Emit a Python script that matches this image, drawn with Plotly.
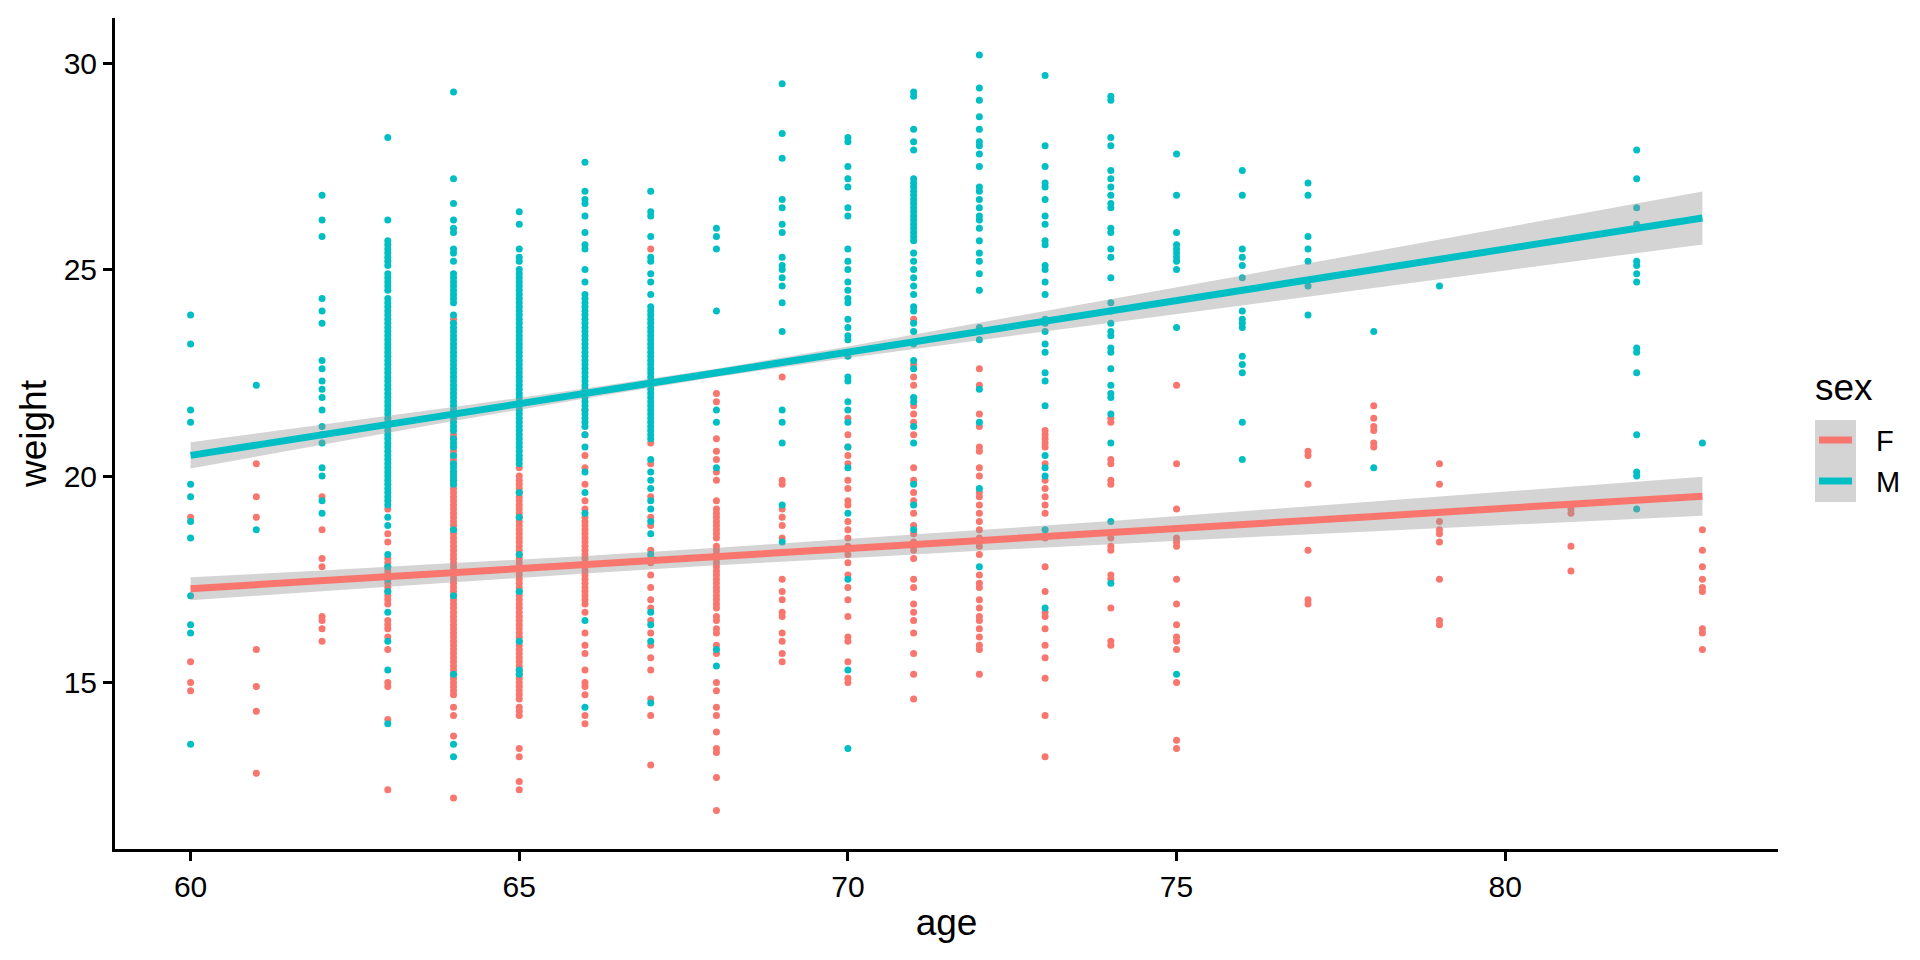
import plotly.graph_objects as go

# ---------------- data ----------------
ages = list(range(60, 84))

weights_F = [
    [19.0, 15.5, 15.0, 14.8],                                                   # 60
    [20.3, 19.5, 19.0, 15.8, 14.9, 14.3, 12.8],                                 # 61
    [19.5, 18.7, 18.0, 17.8, 16.6, 16.5, 16.3, 16.0],                           # 62
    [19.2, 18.6, 18.4, 18.0, 17.9, 17.8, 17.7, 17.6, 17.5, 17.4, 17.3, 17.2,
     17.1, 17.0, 16.9, 16.5, 16.4, 16.3, 16.1, 15.8, 15.0, 14.9, 14.1, 12.4],   # 63
    [23.8, 21.0, 20.9, 20.7, 20.6, 20.5, 20.4, 20.3, 20.1, 20.0, 19.9, 19.8,
     19.7, 19.6, 19.5, 19.4, 19.3, 19.2, 19.1, 19.0, 18.9, 18.8, 18.7, 18.6,
     18.5, 18.4, 18.3, 18.2, 18.1, 18.0, 17.9, 17.8, 17.7, 17.6, 17.5, 17.4,
     17.3, 17.2, 17.1, 17.0, 16.9, 16.8, 16.7, 16.6, 16.5, 16.4, 16.3, 16.2,
     16.1, 16.0, 15.9, 15.8, 15.7, 15.6, 15.5, 15.4, 15.3, 15.2, 15.1, 15.0,
     14.9, 14.8, 14.7, 14.4, 14.2, 13.7, 12.2],                                 # 64
    [20.2, 20.0, 19.9, 19.8, 19.7, 19.6, 19.5, 19.4, 19.3, 19.2, 19.1, 19.0,
     18.9, 18.8, 18.7, 18.6, 18.5, 18.4, 18.3, 18.2, 18.1, 18.0, 17.9, 17.8,
     17.7, 17.6, 17.5, 17.4, 17.3, 17.2, 17.1, 17.0, 16.9, 16.8, 16.7, 16.6,
     16.5, 16.4, 16.3, 16.2, 16.1, 16.0, 15.9, 15.8, 15.7, 15.6, 15.5, 15.4,
     15.3, 15.2, 15.1, 15.0, 14.9, 14.8, 14.7, 14.6, 14.4, 14.3, 14.2, 13.4,
     13.2, 12.6, 12.4],                                                         # 65
    [21.6, 21.0, 20.5, 20.2, 19.8, 19.4, 19.2, 19.0, 18.9, 18.8, 18.7, 18.6,
     18.5, 18.4, 18.3, 18.2, 18.1, 18.0, 17.9, 17.8, 17.7, 17.6, 17.5, 17.4,
     17.3, 17.2, 17.1, 17.0, 16.9, 16.7, 16.2, 15.9, 15.7, 15.3, 15.0, 14.9,
     14.7, 14.2, 14.0],                                                         # 66
    [25.5, 20.8, 20.3, 19.5, 19.0, 18.8, 18.2, 18.0, 17.9, 17.6, 17.3, 17.0,
     16.8, 16.5, 16.2, 15.9, 15.6, 15.3, 14.6, 14.2, 13.0],                     # 67
    [22.5, 22.0, 21.8, 20.9, 20.6, 20.4, 20.1, 19.9, 19.4, 19.2, 19.1, 19.0,
     18.9, 18.8, 18.7, 18.6, 18.5, 18.3, 18.2, 18.1, 18.0, 17.9, 17.8, 17.7,
     17.6, 17.5, 17.4, 17.3, 17.2, 17.1, 17.0, 16.9, 16.8, 16.6, 16.5, 16.3,
     16.2, 15.9, 15.7, 15.0, 14.8, 14.4, 14.2, 13.8, 13.4, 13.3, 12.7, 11.9],   # 68
    [22.4, 19.9, 19.8, 19.2, 19.0, 18.8, 18.5, 17.5, 17.2, 17.0, 16.7, 16.6,
     16.2, 16.0, 15.7, 15.5],                                                   # 69
    [21.4, 21.0, 20.7, 20.5, 20.3, 19.9, 19.7, 19.4, 19.3, 18.9, 18.7, 18.5,
     18.3, 18.1, 17.9, 17.6, 17.3, 17.0, 16.6, 16.1, 16.0, 15.5, 15.1, 15.0],   # 70
    [23.8, 22.7, 22.4, 22.2, 21.7, 21.5, 21.3, 21.0, 20.2, 19.9, 19.6, 19.4,
     19.1, 18.8, 18.6, 18.4, 18.2, 18.0, 17.5, 17.3, 16.9, 16.7, 16.5, 16.2,
     15.7, 15.2, 14.6],                                                         # 71
    [22.6, 22.2, 21.5, 21.2, 20.7, 20.6, 20.2, 20.0, 19.6, 19.5, 19.3, 19.1,
     18.9, 18.7, 18.5, 18.3, 18.1, 17.6, 17.4, 17.3, 17.0, 16.8, 16.6, 16.5,
     16.3, 16.1, 15.9, 15.8, 15.2],                                             # 72
    [21.1, 21.0, 20.9, 20.8, 20.7, 20.3, 19.9, 19.7, 19.5, 19.3, 19.1, 18.5,
     17.8, 17.2, 16.7, 16.6, 16.3, 15.9, 15.6, 15.1, 14.2, 13.2],               # 73
    [21.4, 21.3, 20.4, 20.3, 19.9, 19.8, 18.5, 18.3, 18.2, 17.6, 17.5, 16.8,
     16.0, 15.9],                                                               # 74
    [22.2, 20.3, 19.2, 18.5, 18.4, 18.3, 17.5, 16.9, 16.4, 16.1, 16.0, 15.8,
     15.0, 13.6, 13.4],                                                         # 75
    [],                                                                         # 76
    [20.6, 20.5, 19.8, 18.2, 17.0, 16.9],                                       # 77
    [21.7, 21.4, 21.2, 21.1, 20.8, 20.7],                                       # 78
    [20.3, 19.8, 18.9, 18.7, 18.6, 18.4, 17.5, 16.5, 16.4],                     # 79
    [],                                                                         # 80
    [19.2, 19.1, 18.3, 17.7],                                                   # 81
    [],                                                                         # 82
    [18.7, 18.2, 17.8, 17.5, 17.3, 17.2, 16.3, 16.2, 15.8],                     # 83
]

weights_M = [
    [23.9, 23.2, 21.6, 21.3, 19.8, 19.5, 18.9, 18.5, 17.1, 16.4, 16.2, 13.5],   # 60
    [22.2, 18.7],                                                               # 61
    [26.8, 26.2, 25.8, 24.3, 24.0, 23.7, 22.8, 22.6, 22.3, 22.1, 21.9, 21.6,
     21.2, 21.0, 20.8, 20.2, 20.0, 19.4, 19.1],                                 # 62
    [28.2, 26.2, 25.7, 25.6, 25.5, 25.4, 25.3, 25.2, 25.1, 24.9, 24.8, 24.7,
     24.6, 24.5, 24.3, 24.2, 24.1, 24.0, 23.9, 23.8, 23.7, 23.6, 23.5, 23.4,
     23.3, 23.2, 23.1, 23.0, 22.9, 22.8, 22.7, 22.6, 22.5, 22.4, 22.3, 22.2,
     22.1, 22.0, 21.9, 21.8, 21.7, 21.6, 21.5, 21.4, 21.3, 21.2, 21.1, 21.0,
     20.9, 20.8, 20.7, 20.6, 20.5, 20.4, 20.3, 20.2, 20.1, 20.0, 19.9, 19.8,
     19.7, 19.6, 19.5, 19.4, 19.3, 19.0, 18.8, 18.1, 17.8, 17.5, 17.2, 16.7,
     16.0, 15.3, 14.0],                                                         # 63
    [29.3, 27.2, 26.6, 26.2, 26.0, 25.9, 25.5, 25.4, 25.2, 24.9, 24.8, 24.7,
     24.6, 24.5, 24.4, 24.3, 24.2, 23.9, 23.7, 23.6, 23.5, 23.4, 23.3, 23.2,
     23.1, 23.0, 22.9, 22.8, 22.7, 22.6, 22.5, 22.4, 22.3, 22.2, 22.1, 22.0,
     21.9, 21.8, 21.7, 21.6, 21.5, 21.4, 21.3, 21.2, 21.1, 20.9, 20.8, 20.7,
     20.5, 20.3, 20.2, 20.1, 20.0, 19.9, 19.8, 18.7, 17.1, 15.2, 13.5, 13.2],   # 64
    [26.4, 26.1, 25.5, 25.3, 25.2, 25.0, 24.9, 24.8, 24.7, 24.6, 24.5, 24.4,
     24.3, 24.2, 24.1, 24.0, 23.9, 23.8, 23.7, 23.6, 23.5, 23.4, 23.3, 23.2,
     23.1, 23.0, 22.9, 22.8, 22.7, 22.6, 22.5, 22.4, 22.3, 22.2, 22.1, 22.0,
     21.9, 21.8, 21.7, 21.6, 21.5, 21.4, 21.3, 21.2, 21.1, 21.0, 20.9, 20.8,
     20.7, 20.6, 20.5, 20.4, 20.3, 19.6, 19.0, 18.1, 17.2, 16.0, 15.3, 15.2],   # 65
    [27.6, 26.9, 26.7, 26.6, 26.3, 25.9, 25.6, 25.5, 25.0, 24.7, 24.4, 24.3,
     24.2, 24.1, 24.0, 23.9, 23.8, 23.7, 23.6, 23.5, 23.4, 23.3, 23.2, 23.1,
     23.0, 22.9, 22.8, 22.7, 22.6, 22.5, 22.4, 22.3, 22.2, 22.1, 22.0, 21.9,
     21.8, 21.7, 21.6, 21.5, 21.4, 21.3, 21.2, 21.0, 20.7, 20.1, 19.6, 19.1,
     16.5, 14.4],                                                               # 66
    [26.9, 26.4, 26.3, 25.8, 25.3, 25.2, 24.9, 24.7, 24.4, 24.1, 24.0, 23.9,
     23.8, 23.7, 23.6, 23.5, 23.4, 23.3, 23.2, 23.1, 23.0, 22.9, 22.8, 22.7,
     22.6, 22.5, 22.4, 22.3, 22.2, 22.1, 22.0, 21.9, 21.8, 21.7, 21.6, 21.5,
     21.4, 21.3, 21.2, 21.1, 21.0, 20.9, 20.4, 20.1, 19.9, 19.7, 19.4, 19.2,
     18.9, 18.6, 18.1, 16.7, 16.4, 16.0, 14.5],                                 # 67
    [26.0, 25.8, 25.5, 24.0, 21.6, 21.3, 20.2, 15.8, 15.4],                     # 68
    [29.5, 28.3, 27.7, 26.7, 26.5, 26.1, 25.9, 25.3, 25.1, 25.0, 24.8, 24.6,
     24.2, 23.5, 21.6, 21.3, 20.8, 19.3, 18.4],                                 # 69
    [28.2, 28.1, 27.5, 27.2, 27.0, 26.5, 26.3, 25.5, 25.2, 25.0, 24.7, 24.5,
     24.3, 24.2, 23.8, 23.6, 23.4, 23.3, 22.9, 22.4, 22.3, 21.8, 21.6, 21.3,
     20.7, 20.2, 19.1, 17.5, 15.3, 13.4],                                       # 70
    [29.3, 29.2, 28.4, 28.1, 27.9, 27.2, 27.1, 27.0, 26.9, 26.8, 26.7, 26.6,
     26.5, 26.4, 26.3, 26.2, 26.1, 26.0, 25.9, 25.8, 25.7, 25.4, 25.2, 25.0,
     24.8, 24.6, 24.4, 24.1, 24.0, 23.7, 23.5, 23.2, 22.8, 22.6, 21.9, 21.8,
     21.2, 20.8, 19.8, 19.3, 18.7],                                             # 71
    [30.2, 29.4, 29.1, 28.7, 28.4, 28.1, 28.0, 27.8, 27.5, 27.0, 26.9, 26.7,
     26.5, 26.3, 26.2, 26.0, 25.7, 25.4, 25.2, 24.9, 24.5, 23.6, 23.3, 22.1,
     21.3, 19.7, 17.8],                                                         # 72
    [29.7, 28.0, 27.5, 27.1, 27.0, 26.7, 26.3, 26.1, 25.7, 25.6, 25.1, 25.0,
     24.7, 24.4, 23.8, 23.7, 23.5, 23.2, 23.0, 22.5, 22.3, 21.7, 20.5, 20.2,
     20.0, 18.7, 16.8],                                                         # 73
    [29.2, 29.1, 28.2, 28.0, 27.4, 27.2, 27.0, 26.8, 26.6, 26.5, 26.0, 25.9,
     25.5, 25.3, 24.8, 24.2, 24.0, 23.7, 23.5, 23.4, 23.1, 23.0, 22.6, 22.2,
     22.0, 21.9, 21.5, 20.8, 18.9, 17.4],                                       # 74
    [27.8, 26.8, 25.9, 25.6, 25.5, 25.4, 25.3, 25.2, 25.0, 23.6, 15.2],         # 75
    [27.4, 26.8, 25.5, 25.3, 25.1, 24.8, 24.0, 23.8, 23.7, 23.6, 22.9, 22.7,
     22.5, 21.3, 20.4],                                                         # 76
    [27.1, 26.8, 25.8, 25.5, 25.2, 24.6, 23.9],                                 # 77
    [23.5, 20.2],                                                               # 78
    [24.6],                                                                     # 79
    [],                                                                         # 80
    [],                                                                         # 81
    [27.9, 27.2, 26.5, 26.1, 25.2, 25.1, 24.9, 24.7, 23.1, 23.0, 22.5, 21.0,
     20.1, 20.0, 19.2],                                                         # 82
    [20.8],                                                                     # 83
]

# linear-fit lines and 95% bands at these ages
fit_ages = [60, 62, 64, 66, 68, 70, 72, 74, 76, 78, 80, 83]
fit_M = [20.50, 21.00, 21.50, 22.00, 22.50, 23.00, 23.50, 24.00, 24.50, 25.00, 25.50, 26.25]
lo_M = [20.18, 20.76, 21.33, 21.88, 22.40, 22.86, 23.29, 23.72, 24.14, 24.56, 24.98, 25.61]
hi_M = [20.82, 21.24, 21.67, 22.12, 22.60, 23.14, 23.71, 24.28, 24.86, 25.44, 26.02, 26.89]
fit_F = [17.27, 17.46, 17.66, 17.85, 18.05, 18.24, 18.44, 18.63, 18.83, 19.02, 19.22, 19.51]
lo_F = [16.99, 17.21, 17.43, 17.64, 17.84, 18.01, 18.19, 18.35, 18.51, 18.66, 18.82, 19.04]
hi_F = [17.55, 17.71, 17.89, 18.06, 18.26, 18.47, 18.69, 18.91, 19.15, 19.38, 19.62, 19.98]

x_ticks = [60, 65, 70, 75, 80]
y_ticks = [15, 20, 25, 30]

sexes = ["F", "M"]
colors = {"F": "#F8766D", "M": "#00BFC4"}
points = {"F": weights_F, "M": weights_M}
fits = {"F": (fit_F, lo_F, hi_F), "M": (fit_M, lo_M, hi_M)}

FONT = "Liberation Sans, Arial, Helvetica, sans-serif"

fig = go.Figure()

# points
for s in sexes:
    xs, ys = [], []
    for a, lst in zip(ages, points[s]):
        xs += [a] * len(lst)
        ys += lst
    fig.add_trace(go.Scatter(
        x=xs, y=ys, mode="markers", name=s, showlegend=False,
        marker=dict(color=colors[s], size=7, line=dict(width=0)),
        hoverinfo="skip"))

# smooth: band then line for each group
for s in sexes:
    fit, lo, hi = fits[s]
    fig.add_trace(go.Scatter(
        x=fit_ages + fit_ages[::-1], y=hi + lo[::-1],
        fill="toself", fillcolor="rgba(153,153,153,0.42)",
        line=dict(width=0), mode="lines",
        showlegend=False, hoverinfo="skip"))
    fig.add_trace(go.Scatter(
        x=fit_ages, y=fit, mode="lines", name=s, showlegend=False,
        line=dict(color=colors[s], width=7), hoverinfo="skip"))

# ---------------- layout ----------------
L, R, T, B = 115, 1778, 18, 849
W, H = 1920, 960


def px(xp):
    return (xp - L) / (R - L)


def py(yp):
    return (B - yp) / (B - T)


axis_common = dict(
    showgrid=False, zeroline=False, showline=True, linecolor="black",
    linewidth=3, ticks="outside", ticklen=9, tickwidth=3, tickcolor="black",
    tickfont=dict(family=FONT, size=30, color="black"),
)

fig.update_layout(
    width=W, height=H,
    margin=dict(l=L, r=W - R, t=T, b=H - B),
    paper_bgcolor="white", plot_bgcolor="white",
    showlegend=False,
    xaxis=dict(range=[58.85, 84.15], tickvals=x_ticks,
               title=dict(text="age", font=dict(family=FONT, size=37, color="black"),
                          standoff=8),
               **axis_common),
    yaxis=dict(range=[10.965, 31.095], tickvals=y_ticks,
               title=dict(text="weight", font=dict(family=FONT, size=37, color="black"),
                          standoff=6),
               **axis_common),
)

# ggplot-style legend (key panel drawn with shapes, labels as text)
shapes = [
    dict(type="rect", xref="paper", yref="paper",
         x0=px(1815), x1=px(1856), y0=py(502), y1=py(420),
         fillcolor="rgba(153,153,153,0.42)", line=dict(width=0), layer="above"),
    dict(type="line", xref="paper", yref="paper",
         x0=px(1819), x1=px(1852), y0=py(440), y1=py(440),
         line=dict(color=colors["F"], width=7), layer="above"),
    dict(type="line", xref="paper", yref="paper",
         x0=px(1819), x1=px(1852), y0=py(481), y1=py(481),
         line=dict(color=colors["M"], width=7), layer="above"),
]
annotations = [
    dict(text="sex", xref="paper", yref="paper", x=px(1813), y=py(387),
         xanchor="left", yanchor="middle", showarrow=False,
         font=dict(family=FONT, size=37, color="black")),
    dict(text="F", xref="paper", yref="paper", x=px(1874), y=py(441),
         xanchor="left", yanchor="middle", showarrow=False,
         font=dict(family=FONT, size=29, color="black")),
    dict(text="M", xref="paper", yref="paper", x=px(1874), y=py(482),
         xanchor="left", yanchor="middle", showarrow=False,
         font=dict(family=FONT, size=29, color="black")),
]
fig.update_layout(shapes=shapes, annotations=annotations)

fig.write_html("out.html", config={"displayModeBar": False},
               post_script="document.body.style.margin='0';")
